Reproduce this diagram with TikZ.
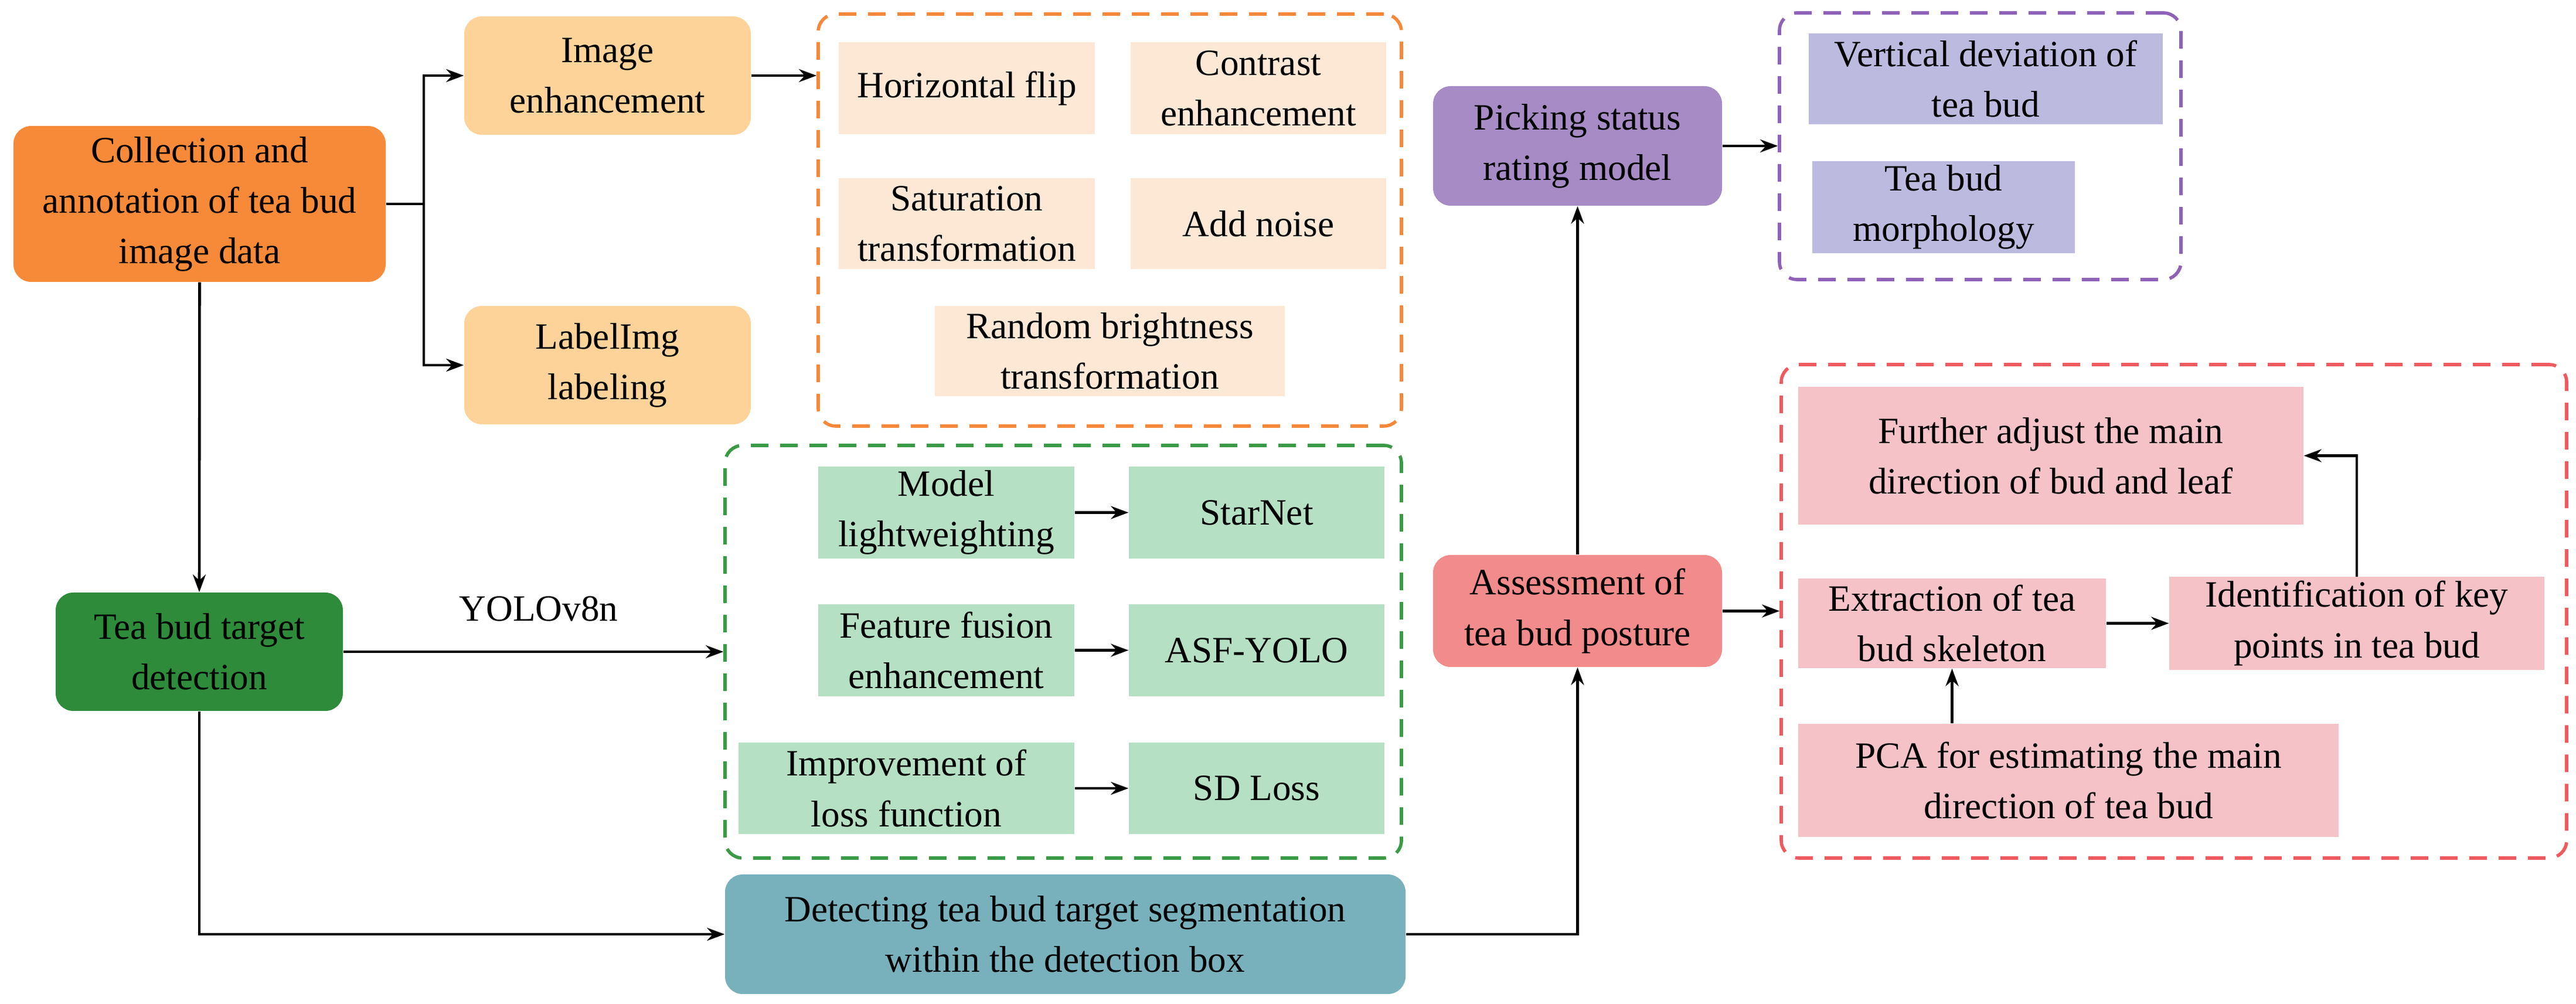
\documentclass[tikz,border=0pt]{standalone}
\usepackage{fontspec}
\setmainfont{Liberation Serif}
\usetikzlibrary{arrows.meta}
\definecolor{cOr}{HTML}{F78A38}
\definecolor{cImg}{HTML}{FDD39A}
\definecolor{cPeach}{HTML}{FDE8D6}
\definecolor{cGd}{HTML}{2E8B3A}
\definecolor{cGl}{HTML}{B5E0C3}
\definecolor{cTeal}{HTML}{78B1BC}
\definecolor{cPur}{HTML}{A68BC5}
\definecolor{cLav}{HTML}{BDBAE0}
\definecolor{cSal}{HTML}{F28B8B}
\definecolor{cPink}{HTML}{F4C2C7}
\definecolor{dOr}{HTML}{F5883A}
\definecolor{dGr}{HTML}{3A9A45}
\definecolor{dPu}{HTML}{8E62B8}
\definecolor{dRe}{HTML}{EE5A5F}
\begin{document}
\begin{tikzpicture}[x=1cm,y=1cm,
  font=\fontsize{18}{24.5}\selectfont,
  rb/.style={rounded corners=0.3cm,draw=none,align=center,inner sep=2pt},
  sb/.style={draw=none,align=center,inner sep=2pt},
  db/.style={draw=#1,dashed,line width=1.6pt,rounded corners=0.3cm,dash pattern=on 0.3cm off 0.2cm},
  ar/.style={-{Stealth[length=0.3cm,width=0.22cm]},line width=1.3pt}]
\useasboundingbox (0,0) rectangle (43.95,-17.13);
% dashed boxes
\node[db=dOr,minimum width=9.95cm,minimum height=7.03cm] (ob) at (18.935,-3.755) {};
\node[db=dGr,minimum width=11.54cm,minimum height=7.04cm] (gb) at (18.14,-11.12) {};
\node[db=dPu,minimum width=6.85cm,minimum height=4.55cm] (pb) at (33.785,-2.495) {};
\node[db=dRe,minimum width=13.40cm,minimum height=8.42cm] (redb) at (37.09,-10.43) {};
% main nodes
\node[rb,fill=cOr,minimum width=6.35cm,minimum height=2.66cm] (coll) at (3.405,-3.48) {Collection and\\annotation of tea bud\\image data};
\node[rb,fill=cImg,minimum width=4.89cm,minimum height=2.02cm] (img) at (10.365,-1.29) {Image\\enhancement};
\node[rb,fill=cImg,minimum width=4.89cm,minimum height=2.02cm] (lab) at (10.365,-6.23) {LabelImg\\labeling};
\node[sb,fill=cPeach,minimum width=4.37cm,minimum height=1.57cm] (hf) at (16.495,-1.505) {Horizontal flip};
\node[sb,fill=cPeach,minimum width=4.36cm,minimum height=1.57cm] (ce) at (21.47,-1.505) {Contrast\\enhancement};
\node[sb,fill=cPeach,minimum width=4.37cm,minimum height=1.55cm] (st) at (16.495,-3.815) {Saturation\\transformation};
\node[sb,fill=cPeach,minimum width=4.36cm,minimum height=1.55cm] (an) at (21.47,-3.815) {Add noise};
\node[sb,fill=cPeach,minimum width=5.97cm,minimum height=1.54cm] (rbt) at (18.935,-5.99) {Random brightness\\transformation};
\node[rb,fill=cGd,minimum width=4.90cm,minimum height=2.02cm] (td) at (3.40,-11.12) {Tea bud target\\detection};
\node[sb,fill=cGl,minimum width=4.37cm,minimum height=1.57cm] (ml) at (16.145,-8.745) {Model\\lightweighting};
\node[sb,fill=cGl,minimum width=4.36cm,minimum height=1.57cm] (sn) at (21.44,-8.745) {StarNet};
\node[sb,fill=cGl,minimum width=4.37cm,minimum height=1.57cm] (ff) at (16.145,-11.095) {Feature fusion\\enhancement};
\node[sb,fill=cGl,minimum width=4.36cm,minimum height=1.57cm] (asf) at (21.44,-11.095) {ASF-YOLO};
\node[sb,fill=cGl,minimum width=5.73cm,minimum height=1.56cm] (il) at (15.465,-13.45) {Improvement of\\loss function};
\node[sb,fill=cGl,minimum width=4.36cm,minimum height=1.56cm] (sd) at (21.44,-13.45) {SD Loss};
\node[rb,fill=cTeal,minimum width=11.61cm,minimum height=2.04cm] (det) at (18.175,-15.94) {Detecting tea bud target segmentation\\within the detection box};
\node[rb,fill=cPur,minimum width=4.93cm,minimum height=2.04cm] (pk) at (26.915,-2.49) {Picking status\\rating model};
\node[sb,fill=cLav,minimum width=6.04cm,minimum height=1.55cm] (vd) at (33.88,-1.345) {Vertical deviation of\\tea bud};
\node[sb,fill=cLav,minimum width=4.48cm,minimum height=1.55cm] (mo) at (33.16,-3.535) {Tea bud\\morphology};
\node[rb,fill=cSal,minimum width=4.93cm,minimum height=1.91cm] (as) at (26.915,-10.425) {Assessment of\\tea bud posture};
\node[sb,fill=cPink,minimum width=8.62cm,minimum height=2.35cm] (fa) at (34.99,-7.775) {Further adjust the main\\direction of bud and leaf};
\node[sb,fill=cPink,minimum width=5.25cm,minimum height=1.53cm] (ex) at (33.305,-10.635) {Extraction of tea\\bud skeleton};
\node[sb,fill=cPink,minimum width=6.40cm,minimum height=1.53cm] (id) at (40.21,-10.635) {Identification of key\\points in tea bud};
\node[sb,fill=cPink,minimum width=9.22cm,minimum height=1.93cm] (pca) at (35.29,-13.315) {PCA for estimating the main\\direction of tea bud};
\node (yl) at (9.19,-10.39) {YOLOv8n};
% connectors
\coordinate (br) at (7.23,-3.48);
\draw[line width=1.3pt] (coll.east) -- (br);
\draw[ar] (br) |- (img.west);
\draw[ar] (br) |- (lab.west);
\draw[ar] (img.east) -- (img.east -| ob.west);
\draw[ar] (coll.south) -- (td.north);
\draw[ar] (td.east) -- (td.east -| gb.west);
\draw[ar] (td.south) |- (det.west);
\draw[ar] (ml) -- (sn);
\draw[ar] (ff) -- (asf);
\draw[ar] (il) -- (sd);
\draw[ar] (det.east) -| (as.south);
\draw[ar] (as.north) -- (pk.south);
\draw[ar] (pk.east) -- (pk.east -| pb.west);
\draw[ar] (as.east) -- (as.east -| redb.west);
\draw[ar] (ex) -- (id);
\draw[ar] (pca.north -| ex.south) -- (ex.south);
\draw[ar] (id.north) |- (fa.east);
\end{tikzpicture}
\end{document}
